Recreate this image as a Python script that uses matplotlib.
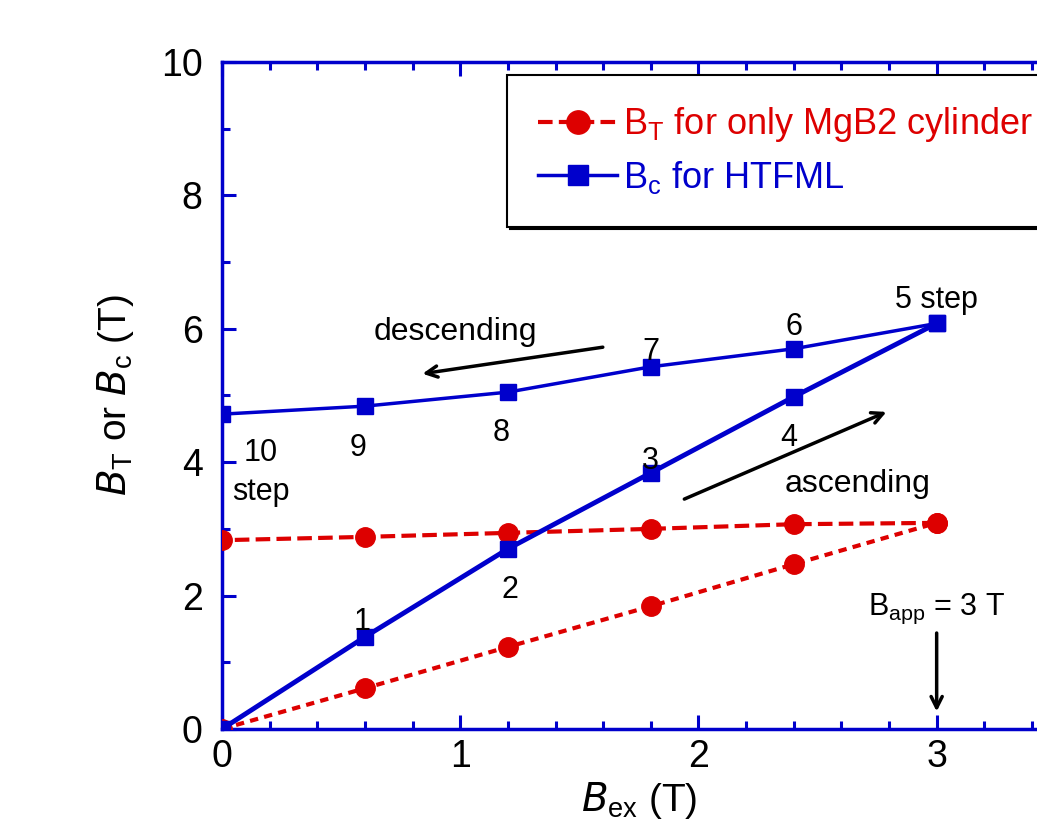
import matplotlib.pyplot as plt
from matplotlib.ticker import MultipleLocator

plt.rcParams['font.family'] = ['Liberation Sans', 'DejaVu Sans']

# applied field steps (T)
b_ex_up = [0.0, 0.6, 1.2, 1.8, 2.4, 3.0]
b_ex_down = [3.0, 2.4, 1.8, 1.2, 0.6, 0.0]

# B_T for MgB2 cylinder only
bt_up = [0.0, 0.61, 1.23, 1.84, 2.47, 3.09]
bt_down = [3.09, 3.07, 3.00, 2.94, 2.88, 2.83]

# B_c for HTFML
bc_up = [0.0, 1.38, 2.70, 3.84, 4.98, 6.08]
bc_down = [6.08, 5.70, 5.43, 5.05, 4.84, 4.72]

step_labels = ['1', '2', '3', '4', '5 step', '6', '7', '8', '9', '10']
step_xy = [(0.59, 1.60), (1.21, 2.08), (1.80, 4.02), (2.38, 4.36), (3.0, 6.43),
           (2.40, 6.03), (1.80, 5.65), (1.17, 4.44), (0.57, 4.21), (0.164, 4.14)]

RED = '#dd0000'
BLUE = '#0000cc'

fig = plt.figure(figsize=(10.37, 8.21), dpi=100)
ax = fig.add_axes([0.2141, 0.1121, 0.804, 0.8124])

ax.plot(b_ex_up, bt_up, color=RED, lw=3, linestyle=(0, (2.0, 1.5)),
        marker='o', ms=14, zorder=3)
ax.plot(b_ex_down, bt_down, color=RED, lw=3, linestyle=(0, (3.5, 1.5)),
        marker='o', ms=14, zorder=3, label=r'B$_\mathregular{T}$ for only MgB2 cylinder')
ax.plot(b_ex_up, bc_up, color=BLUE, lw=3.5, marker='s', ms=12, zorder=4)
ax.plot(b_ex_down, bc_down, color=BLUE, lw=2.5, marker='s', ms=12, zorder=4,
        label=r'B$_\mathregular{c}$ for HTFML')

for lab, (x, y) in zip(step_labels, step_xy):
    ax.text(x, y, lab, fontsize=22, ha='center', va='center', zorder=6)
ax.text(0.164, 3.55, 'step', fontsize=22, ha='center', va='center')
ax.text(0.98, 5.95, 'descending', fontsize=23, ha='center', va='center')
ax.text(2.67, 3.67, 'ascending', fontsize=23, ha='center', va='center')
ax.text(3.0, 1.8, r'B$_\mathregular{app}$ = 3 T', fontsize=22, ha='center', va='center')

arrow = dict(arrowstyle='->,head_length=0.8,head_width=0.4', color='black', lw=2.5)
ax.annotate('', xy=(0.83, 5.32), xytext=(1.61, 5.73), arrowprops=arrow)
ax.annotate('', xy=(2.80, 4.77), xytext=(1.93, 3.43), arrowprops=arrow)
ax.annotate('', xy=(3.0, 0.22), xytext=(3.0, 1.48), arrowprops=arrow)

ax.set_xlim(0, 3.5)
ax.set_ylim(0, 10)
ax.xaxis.set_major_locator(MultipleLocator(1))
ax.xaxis.set_minor_locator(MultipleLocator(0.2))
ax.yaxis.set_major_locator(MultipleLocator(2))
ax.yaxis.set_minor_locator(MultipleLocator(1))
ax.tick_params(which='both', direction='in', top=True, right=True, color=BLUE,
               labelsize=27, width=2.2)
ax.tick_params(which='major', length=10)
ax.tick_params(which='minor', length=6)
ax.tick_params(axis='y', pad=14)
ax.tick_params(axis='x', pad=7)
for s in ax.spines.values():
    s.set_color(BLUE)
    s.set_linewidth(2.5)

ax.set_xlabel(r'$\mathit{B}_\mathregular{ex}$ (T)', fontsize=28, labelpad=4)
ax.set_ylabel(r'$\mathit{B}_\mathregular{T}$ or $\mathit{B}_\mathregular{c}$ (T)',
              fontsize=28, labelpad=18)

leg = ax.legend(loc='upper left', bbox_to_anchor=(0.489, 0.909),
                bbox_transform=fig.transFigure, fontsize=26, frameon=True,
                fancybox=False, edgecolor='black', handlelength=2.2,
                handletextpad=0.15, borderpad=0.85, labelspacing=0.4,
                borderaxespad=0, markerscale=1.2,
                shadow={'color': 'black', 'alpha': 1})
leg.get_frame().set_linewidth(1.5)
for txt, c in zip(leg.get_texts(), [RED, BLUE]):
    txt.set_color(c)

fig.savefig('out.png', dpi=100)
